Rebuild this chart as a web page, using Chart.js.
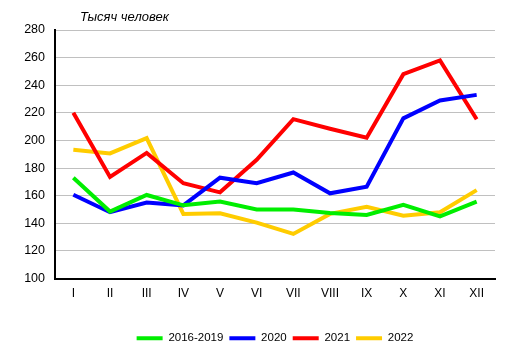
<!DOCTYPE html>
<html><head><meta charset="utf-8">
<script src="https://cdn.jsdelivr.net/npm/chart.js@4"></script>
<style>html,body{margin:0;padding:0;background:#fff}#w{width:514px;height:357px}</style>
</head><body><div id="w"><canvas id="c"></canvas></div>
<script>
const months = ["I","II","III","IV","V","VI","VII","VIII","IX","X","XI","XII"];
const s2016_2019 = [173,148.5,160.5,153,155.7,150,150,147.5,146,153.3,145,155.7];
const s2020 = [160.7,148,155,153,173,169,176.8,161.7,166.5,216,229,233];
const s2021 = [220,173.5,191,169,162.4,186,215.4,208.5,202,248,258,215.4];
const s2022 = [193.3,190.6,201.7,146.8,147.2,140.5,132.3,146.8,152,145.5,148,164];
const unitLabel = "Тысяч человек";

const titlePlugin = {
  id: 'unitTitle',
  afterDraw(chart) {
    const ctx = chart.ctx, a = chart.chartArea;
    ctx.save();
    ctx.font = 'italic 13px "Liberation Sans", Arial, sans-serif';
    ctx.fillStyle = '#000';
    ctx.textBaseline = 'middle';
    ctx.textAlign = 'left';
    ctx.fillText(unitLabel, a.left + 25, a.top - 13);
    ctx.restore();
  }
};

function ds(label, data, color) {
  return {label, data, borderColor: color, backgroundColor: color, borderWidth: 4,
    pointRadius: 0, tension: 0, fill: false};
}

new Chart(document.getElementById('c'), {
  type: 'line',
  data: {labels: months, datasets: [
    ds('2016-2019', s2016_2019, '#00ee00'),
    ds('2020', s2020, '#0000ff'),
    ds('2021', s2021, '#ff0000'),
    ds('2022', s2022, '#ffcc00')
  ]},
  options: {
    responsive: true, maintainAspectRatio: false, animation: false,
    layout: {padding: {top: 30, right: 19, left: 0, bottom: 3}},
    plugins: {
      tooltip: {enabled: false},
      legend: {
        position: 'bottom',
        fullSize: false,
        labels: {
          boxWidth: 26, boxHeight: 4, padding: 6,
          color: '#000',
          font: {family: '"Liberation Sans", Arial, sans-serif', size: 11.5},
          generateLabels(chart) {
            const items = Chart.defaults.plugins.legend.labels.generateLabels(chart);
            items.forEach(i => { i.lineWidth = 0; i.strokeStyle = 'rgba(0,0,0,0)'; });
            return items;
          }
        }
      }
    },
    scales: {
      x: {
        offset: true,
        grid: {display: false, drawTicks: false},
        border: {color: '#000', width: 2},
        ticks: {color: '#000', padding: 8, font: {family: '"Liberation Sans", Arial, sans-serif', size: 12}},
        afterFit(s) { s.height = 48; }
      },
      y: {
        min: 100, max: 280,
        grid: {color: '#c0c0c0', drawTicks: false},
        border: {color: '#000', width: 2},
        ticks: {stepSize: 20, color: '#000', padding: 10, font: {family: '"Liberation Sans", Arial, sans-serif', size: 12.5}},
        afterFit(s) { s.width = 55; }
      }
    }
  },
  plugins: [titlePlugin]
});
</script></body></html>
